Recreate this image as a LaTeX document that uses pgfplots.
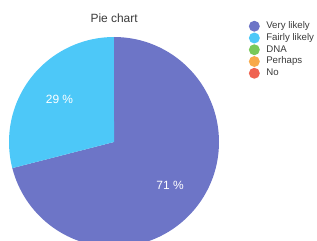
\documentclass[border=0pt]{standalone}
\usepackage{pgfplots}
\usepackage{pgfplotstable}
\pgfplotsset{compat=1.18}
\usetikzlibrary{calc}
\usepackage{fontspec}
\setmainfont{Liberation Sans}
\definecolor{cVery}{HTML}{6D75C7}
\definecolor{cFair}{HTML}{4DC8F8}
\definecolor{cDNA}{HTML}{78C95A}
\definecolor{cPerh}{HTML}{F8A94A}
\definecolor{cNo}{HTML}{EF6250}
\definecolor{txt}{HTML}{3A3A3A}
\pgfplotstableread{
label value
Very 71
Fairly 29
DNA 0
Perhaps 0
No 0
}\piedata
\begin{document}
\begin{tikzpicture}
\pgfplotstablegetelem{0}{value}\of\piedata \let\va\pgfplotsretval
\pgfplotstablegetelem{1}{value}\of\piedata \let\vb\pgfplotsretval
\pgfmathsetmacro{\tot}{\va+\vb}
\pgfmathsetmacro{\aend}{90-\va/\tot*360}
\pgfmathsetmacro{\bend}{\aend-\vb/\tot*360}
\pgfmathsetmacro{\amid}{(90+\aend)/2}
\pgfmathsetmacro{\bmid}{(\aend+\bend)/2}
\pgfmathtruncatemacro{\pa}{round(\va/\tot*100)}
\pgfmathtruncatemacro{\pb}{round(\vb/\tot*100)}
\begin{axis}[
  scale only axis, width=317bp, height=241bp,
  xmin=0, xmax=317, ymin=0, ymax=241,
  hide axis, clip=true,
  title={\fontsize{12}{14}\selectfont\color{txt}Pie chart},
  title style={at={(axis description cs:0.36,0.90)}, anchor=center},
  legend style={draw=none, fill=none, at={(axis description cs:0.775,0.925)}, anchor=north west,
    font=\fontsize{9.7}{11}\selectfont\color{txt},
    nodes={text height=7pt, text depth=2pt, inner ysep=1.5pt, inner xsep=2pt},
    row sep=-0.2pt},
  legend cell align=left,
  legend image code/.code={\path[fill=#1, draw=none] (0pt,0pt) circle[radius=5.5pt];
     \path[draw=none, fill=none] (-4pt,-4pt) rectangle (10pt,4pt);},
]
\fill[cVery] (axis cs:114,99) -- ++(90:105bp) arc[start angle=90, end angle=\aend, radius=105bp] -- cycle;
\fill[cFair] (axis cs:114,99) -- ++(\aend:105bp) arc[start angle=\aend, end angle=\bend, radius=105bp] -- cycle;
\node[white, font=\fontsize{12}{14}\selectfont] at ($(axis cs:114,99)+(\amid:71bp)$) {\pa~\%};
\node[white, font=\fontsize{12}{14}\selectfont] at ($(axis cs:114,99)+(\bmid:69bp)$) {\pb~\%};
\addlegendimage{cVery}\addlegendentry{Very likely}
\addlegendimage{cFair}\addlegendentry{Fairly likely}
\addlegendimage{cDNA}\addlegendentry{DNA}
\addlegendimage{cPerh}\addlegendentry{Perhaps}
\addlegendimage{cNo}\addlegendentry{No}
\end{axis}
\pgfresetboundingbox
\path (current axis.south west) rectangle (current axis.north east);
\end{tikzpicture}
\end{document}
